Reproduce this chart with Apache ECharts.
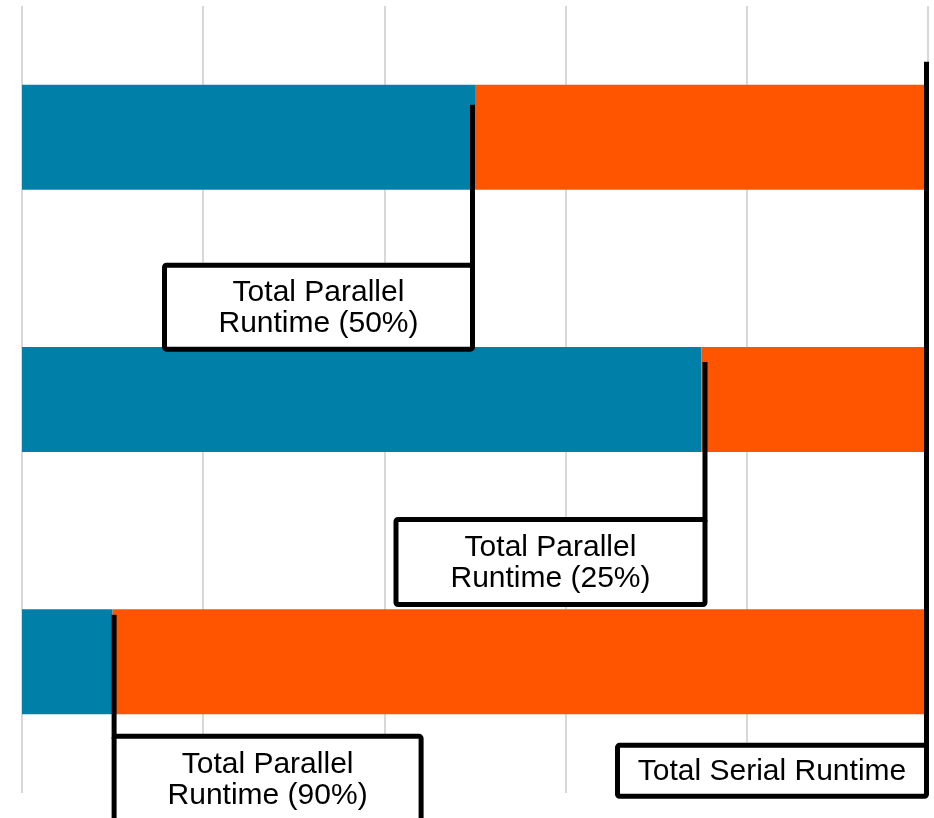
<!DOCTYPE html>
<html>
<head>
<meta charset="utf-8">
<script src="https://cdn.jsdelivr.net/npm/echarts@6/dist/echarts.min.js"></script>
<style>
  html, body { margin: 0; padding: 0; background: #fff; }
  #main { width: 934px; height: 818px; }
</style>
</head>
<body>
<div id="main"></div>
<script>
// data
const categories = ['Case A', 'Case B', 'Case C']
const parallelValues = [0.5, 0.75, 0.1]
const serialValues = [0.5, 0.25, 0.9]
const xTicks = [0, 0.2, 0.4, 0.6, 0.8, 1.0]
const noteTexts = [
  'Total Parallel\nRuntime (50%)',
  'Total Parallel\nRuntime (25%)',
  'Total Parallel\nRuntime (90%)',
  'Total Serial Runtime'
]

const chart = echarts.init(document.getElementById('main'))

chart.setOption({
  animation: false,
  grid: { left: 22, right: 6, top: 6, bottom: 25 },
  xAxis: {
    type: 'value',
    min: xTicks[0],
    max: xTicks[xTicks.length - 1],
    interval: xTicks[1] - xTicks[0],
    axisLine: { show: false },
    axisTick: { show: false },
    axisLabel: { show: false },
    splitLine: { show: true, lineStyle: { color: '#cbcbcb', width: 1.5 } }
  },
  yAxis: {
    type: 'category',
    inverse: true,
    data: categories,
    axisLine: { show: false },
    axisTick: { show: false },
    axisLabel: { show: false },
    splitLine: { show: false }
  },
  series: [
    {
      name: 'Parallel',
      type: 'bar',
      stack: 'runtime',
      barWidth: '40%',
      itemStyle: { color: '#0080a8' },
      data: parallelValues
    },
    {
      name: 'Serial',
      type: 'bar',
      stack: 'runtime',
      barWidth: '40%',
      itemStyle: { color: '#ff5500' },
      data: serialValues
    }
  ]
})

// callout layout, anchored on the bar boundaries
const notes = [
  { value: parallelValues[0], dx: -2.5, lineCat: 0, lineDy: -32.5, boxCat: 0, boxDy: 125.5, w: 313, h: 89, side: 'left' },
  { value: parallelValues[1], dx: 3.5, lineCat: 1, lineDy: -37.5, boxCat: 1, boxDy: 117.5, w: 314, h: 90, side: 'left' },
  { value: parallelValues[2], dx: 1.5, lineCat: 2, lineDy: -47, boxCat: 2, boxDy: 72, w: 312, h: 90, side: 'right' },
  { value: parallelValues[2] + serialValues[2], dx: -1.5, lineCat: 0, lineDy: -75.5, boxCat: 2, boxDy: 81, w: 314, h: 56, side: 'left' }
]

const drawNotes = () => {
  const lw = 5
  const els = []
  notes.forEach((n, i) => {
    const x = chart.convertToPixel({ xAxisIndex: 0 }, n.value) + n.dx
    const yLine = chart.convertToPixel({ yAxisIndex: 0 }, categories[n.lineCat]) + n.lineDy
    const yBox = chart.convertToPixel({ yAxisIndex: 0 }, categories[n.boxCat]) + n.boxDy
    const left = n.side === 'left' ? x + lw / 2 - n.w : x - lw / 2
    els.push({
      type: 'line',
      z: 10,
      shape: { x1: x, y1: yLine, x2: x, y2: yBox + lw },
      style: { stroke: '#000', lineWidth: lw }
    })
    els.push({
      type: 'rect',
      z: 11,
      shape: { x: left + lw / 2, y: yBox + lw / 2, width: n.w - lw, height: n.h - lw, r: 2 },
      style: { fill: '#fff', stroke: '#000', lineWidth: lw }
    })
    els.push({
      type: 'text',
      z: 12,
      x: left + n.w / 2,
      y: yBox + n.h / 2 + 1,
      style: {
        text: noteTexts[i],
        font: '30px "Liberation Sans", Arial, sans-serif',
        fill: '#000',
        align: 'center',
        verticalAlign: 'middle',
        lineHeight: 31
      }
    })
  })
  chart.setOption({ graphic: els })
}

drawNotes()
</script>
</body>
</html>
